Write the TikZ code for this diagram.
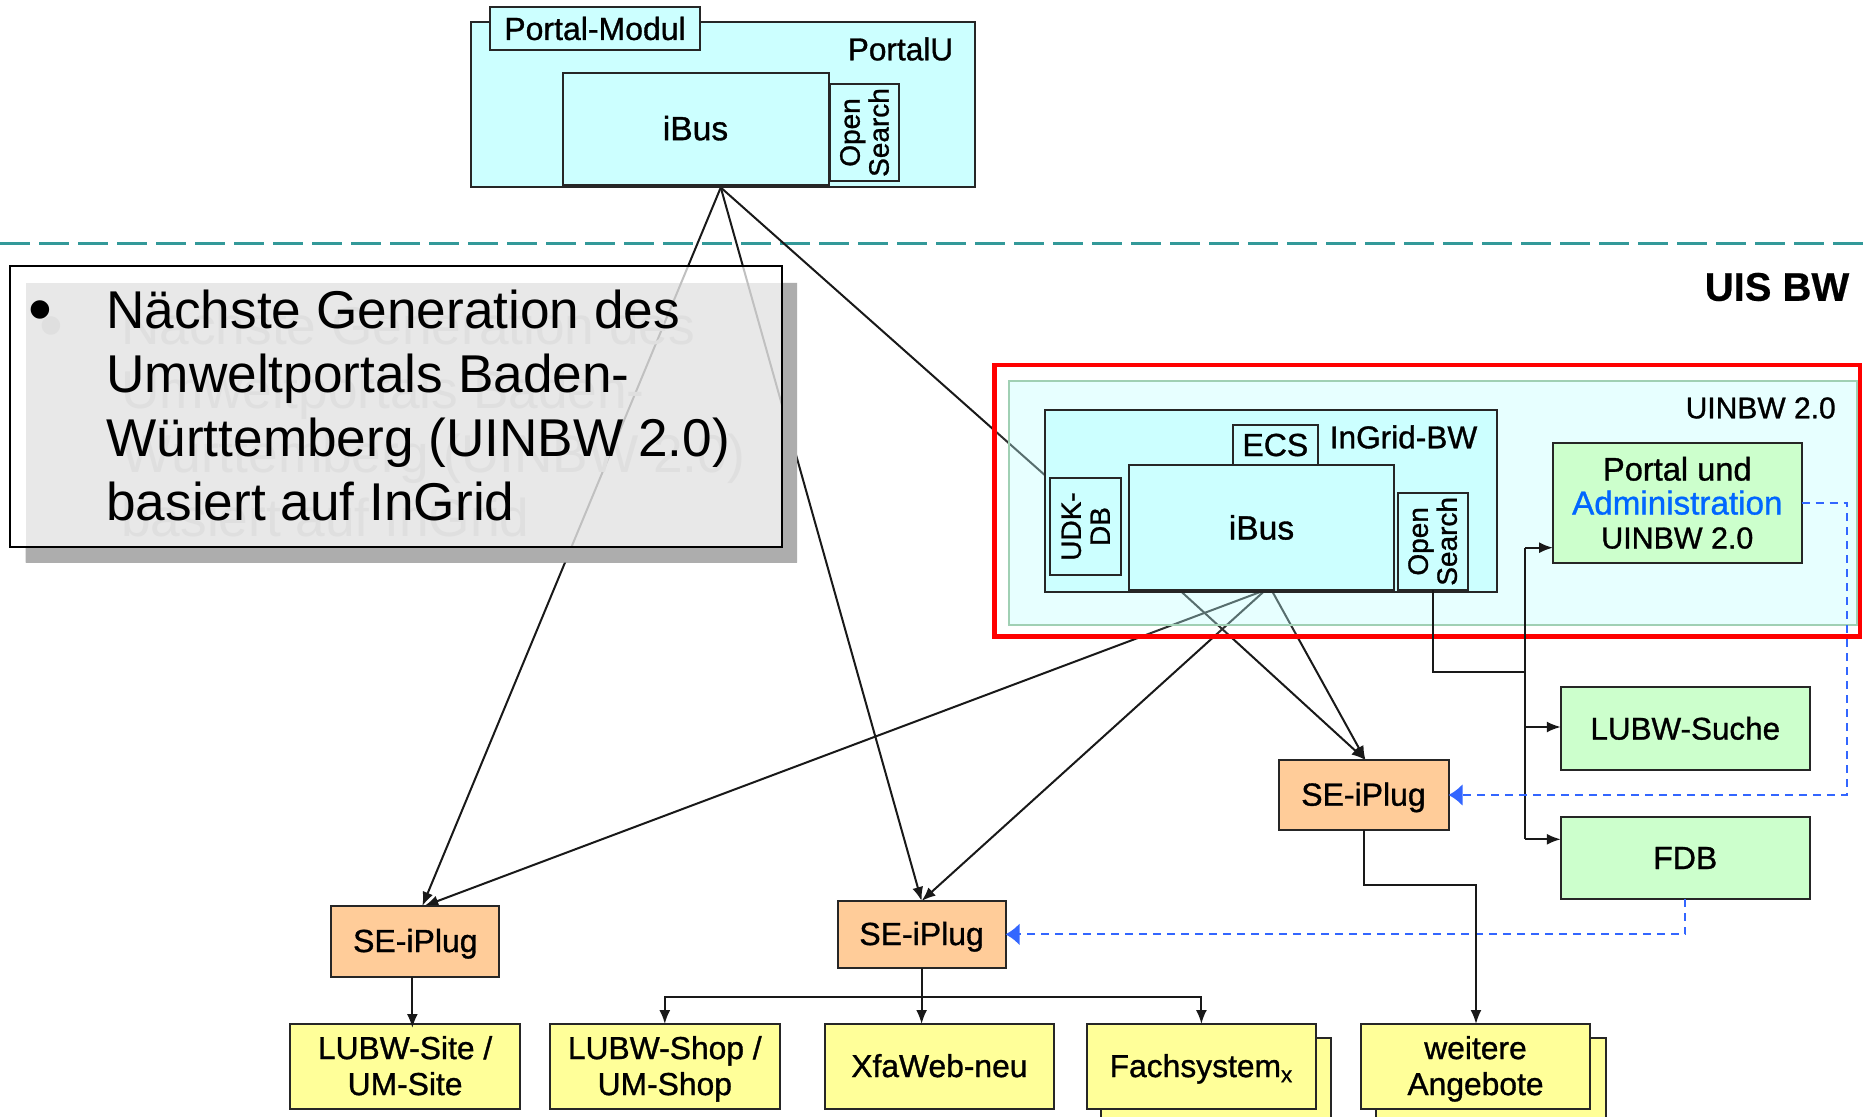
\documentclass[tikz,border=0pt]{standalone}
\usepackage{fontspec}
\setmainfont{Liberation Sans}
\newfontfamily\lab[FakeBold=1]{Liberation Sans}
\newfontfamily\labbold[FakeBold=0.5]{Liberation Sans Bold}
\usetikzlibrary{arrows.meta}
\pgfdeclarelayer{back}
\pgfsetlayers{back,main}
\definecolor{cyanbox}{HTML}{CCFFFF}
\definecolor{palecyan}{HTML}{B2FFFF}
\definecolor{greenbox}{HTML}{CCFFCC}
\definecolor{orangebox}{HTML}{FFCC99}
\definecolor{yellowbox}{HTML}{FFFF99}
\definecolor{shadowgray}{HTML}{ADADAD}
\definecolor{ghost}{HTML}{DFDFDF}
\definecolor{tealdash}{HTML}{339999}
\definecolor{bluedash}{HTML}{3366FF}
\definecolor{bluetext}{HTML}{0066FF}
\definecolor{palegreen}{HTML}{A0D0B4}
\newcommand{\fs}[1]{\fontsize{#1}{17}\selectfont}
\newcommand{\sestrut}{\rule[-3.3pt]{0pt}{17.3pt}}
\tikzset{
  basebox/.style={draw=black!85,line width=1pt,inner sep=0pt,outer sep=0pt,align=center,font=\lab\fontsize{16}{17}\selectfont},
  cyanb/.style={basebox,fill=cyanbox},
  greenb/.style={basebox,fill=greenbox},
  orangeb/.style={basebox,fill=orangebox},
  yellowb/.style={basebox,fill=yellowbox,font=\lab\fontsize{15.9}{18}\selectfont},
  vertlabel/.style={rotate=90,align=center,inner sep=0pt,font=\lab\fontsize{14}{14.5}\selectfont},
  plainlabel/.style={inner sep=0pt,font=\lab\fontsize{15.8}{17}\selectfont},
  arr/.style={draw=black!90,line width=1pt,-{Latex[length=7pt,width=5.5pt]}},
  seg/.style={draw=black!90,line width=1pt},
  bluearr/.style={draw=bluedash,line width=1.1pt,dash pattern=on 4pt off 3pt,-{Latex[length=7pt,width=11pt]}},
  calltext/.style={anchor=north west,inner sep=0pt,align=left,font=\fontsize{26.6}{32}\selectfont},
  bulletstyle/.style={inner sep=0pt,font=\fontsize{34}{34}\selectfont}
}
\newcommand{\bx}[7]{\node[#2,minimum width={(#5-#3)*0.5pt},minimum height={(#6-#4)*0.5pt}] (#1) at ({(#3+#5)/2},{(#4+#6)/2}) {#7};}
\begin{document}
\begin{tikzpicture}[x=0.5pt,y=-0.5pt]
\useasboundingbox (0,0) rectangle (1863,1117);
\begin{pgfonlayer}{back}
\fill[white] (0,0) rectangle (1863,1117);
% separator
\coordinate (sepL) at (0,243.4);
\coordinate (sepR) at (1863,243.4);
\draw[tealdash,line width=1.25pt,dash pattern=on 15pt off 4.5pt] (sepL) -- (sepR);
\bx{shadow}{draw=none,fill=shadowgray}{25.5}{283}{797}{562.5}{}
\end{pgfonlayer}
% PortalU
\bx{portalU}{cyanb}{471}{22}{974.5}{187.5}{}
\bx{pmod}{cyanb}{490}{7}{700}{50}{Portal-Modul}
\node[plainlabel] (portalUlabel) at (900.5,49) {PortalU};
\bx{ibusA}{cyanb}{562.5}{73}{828.5}{185}{\fs{16.8}\raisebox{1pt}{iBus}}
\bx{osA}{cyanb}{830}{84}{899}{181}{}
\node[vertlabel] (osAtext) at (osA.center) {Open\\Search};
% callout
\fill[shadowgray] (782,283) -- (797,283) -- (797,562.5) -- (25.5,562.5) -- (25.5,546.5) -- (782,546.5) -- cycle;
\bx{callout}{draw=none,fill=white,fill opacity=0.73}{10}{266.4}{782}{546.5}{}
\bx{calloutframe}{draw=black,line width=1pt}{10}{266.4}{782}{546.5}{}
\node[bulletstyle,text=ghost] (ghostbullet) at (51,333) {•};
\node[calltext,text=ghost] (ghosttext) at (121,306) {Nächste Generation des\\Umweltportals Baden-\\Württemberg (UINBW 2.0)\\basiert auf InGrid};
\node[bulletstyle] (bullet) at (40,317) {•};
\node[calltext] (calltextmain) at (106,290) {Nächste Generation des\\Umweltportals Baden-\\Württemberg (UINBW 2.0)\\basiert auf InGrid};
\node[inner sep=0pt,font=\labbold\fontsize{20}{21}\selectfont] (uisbw) at (1777,287) {UIS BW};
% red frame and UINBW
\bx{redframe}{draw=red,line width=2.4pt,fill=white,fill opacity=0.1}{994.5}{365}{1860}{636.7}{}
\bx{uinbw}{draw=palegreen,line width=1pt,fill=palecyan,fill opacity=0.3}{1009}{381}{1857}{625}{}
\node[plainlabel,font=\lab\fontsize{15}{17}\selectfont] (uinbwlabel) at (1760.7,408) {UINBW 2.0};
\bx{ingrid}{cyanb}{1044.7}{410}{1497.4}{592}{}
\node[plainlabel] (ingridlabel) at (1403.5,437) {InGrid-BW};
\bx{ecs}{cyanb}{1233}{425}{1317.7}{465}{ECS}
\bx{ibusB}{cyanb}{1129}{465}{1394}{590}{\fs{16.8}iBus}
\bx{udk}{cyanb}{1050.4}{478}{1121}{575}{}
\node[vertlabel] (udktext) at (udk.center) {UDK-\\DB};
\bx{osB}{cyanb}{1397.8}{492.7}{1467.5}{590}{}
\node[vertlabel] (osBtext) at (osB.center) {Open\\Search};
\bx{portalUI}{greenb}{1553}{443}{1801.6}{562.7}{\fs{16.3}Portal und\\\fs{16.6}\textcolor{bluetext}{Administration}\\\fs{15.2}UINBW 2.0}
\bx{lubws}{greenb}{1560.8}{687}{1809.7}{769.7}{\fs{15.7}LUBW-Suche}
\bx{fdb}{greenb}{1560.8}{817}{1809.7}{899}{FDB}
% SE-iPlugs
\bx{seR}{orangeb}{1278.5}{760}{1448.5}{830}{\sestrut SE-iPlug}
\bx{seL}{orangeb}{331.4}{906}{499.3}{976.7}{\sestrut SE-iPlug}
\bx{seM}{orangeb}{837.7}{901}{1005.5}{967.7}{\sestrut SE-iPlug}
% bottom row
\bx{lsite}{yellowb}{290.4}{1024}{519.8}{1108.7}{\sestrut LUBW-Site /\\\sestrut UM-Site}
\bx{lshop}{yellowb}{550}{1024}{779.6}{1108.7}{\sestrut LUBW-Shop /\\\sestrut UM-Shop}
\bx{xfa}{yellowb}{825}{1024}{1053.8}{1108.7}{\sestrut XfaWeb-neu}
\bx{fachback}{yellowb}{1101}{1038}{1330.5}{1130}{}
\bx{fach}{yellowb}{1086.8}{1024}{1316}{1108.7}{\sestrut Fachsystem\textsubscript{x}}
\bx{weiback}{yellowb}{1376}{1038}{1605.5}{1130}{}
\bx{wei}{yellowb}{1361}{1024}{1590}{1108.7}{\sestrut weitere\\\sestrut Angebote}
% connectors under the overlays
\coordinate (inE) at (1044.7,475);
\begin{pgfonlayer}{back}
\draw[arr] ([xshift=-1pt]portalU.south) -- ([xshift=3.5pt]seL.north);
\draw[arr] ([xshift=-1pt]portalU.south) -- (seM.north);
\draw[seg] ([xshift=-1pt]portalU.south) -- (inE);
\draw[arr] ([xshift=-41pt]ibusB.south) -- ([xshift=1pt]seR.north);
\draw[arr] ([xshift=5pt]ibusB.south) -- ([xshift=1pt]seR.north);
\draw[arr] ([xshift=2pt]ibusB.south) -- ([xshift=4.5pt]seL.north);
\draw[arr] ([xshift=2pt]ibusB.south) -- (seM.north);
\end{pgfonlayer}
% connectors on top
\coordinate (busTop) at (1525,547.7);
\coordinate (busJoin) at (1525,672);
\coordinate (busBot) at (1525,839.3);
\draw[seg] (osB.south) |- (busJoin);
\draw[seg] (busTop) -- (busBot);
\draw[arr] (busTop) -- (busTop -| portalUI.west);
\draw[arr] (busBot) -- (busBot -| fdb.west);
\coordinate (busMid) at (1525,727);
\draw[arr] (busMid) -- (busMid -| lubws.west);
\coordinate (dashCorner) at (1847,600);
\draw[bluearr] (portalUI.east) -| (dashCorner) |- (seR.east);
\draw[bluearr] (fdb.south) |- (seM.east);
\coordinate (seRjoin) at (1476,885);
\draw[arr] (seR.south) |- (seRjoin) -- (seRjoin |- wei.north);
\draw[arr] ([xshift=-1.5pt]seL.south) -- ([xshift=-1.5pt,yshift=-2pt]seL.south |- lsite.north);
\coordinate (branch) at (921.6,996.7);
\draw[arr] (seM.south) -- (seM.south |- xfa.north);
\draw[arr] (branch) -| (lshop.north);
\draw[arr] (branch) -| (fach.north);
\end{tikzpicture}
\end{document}
